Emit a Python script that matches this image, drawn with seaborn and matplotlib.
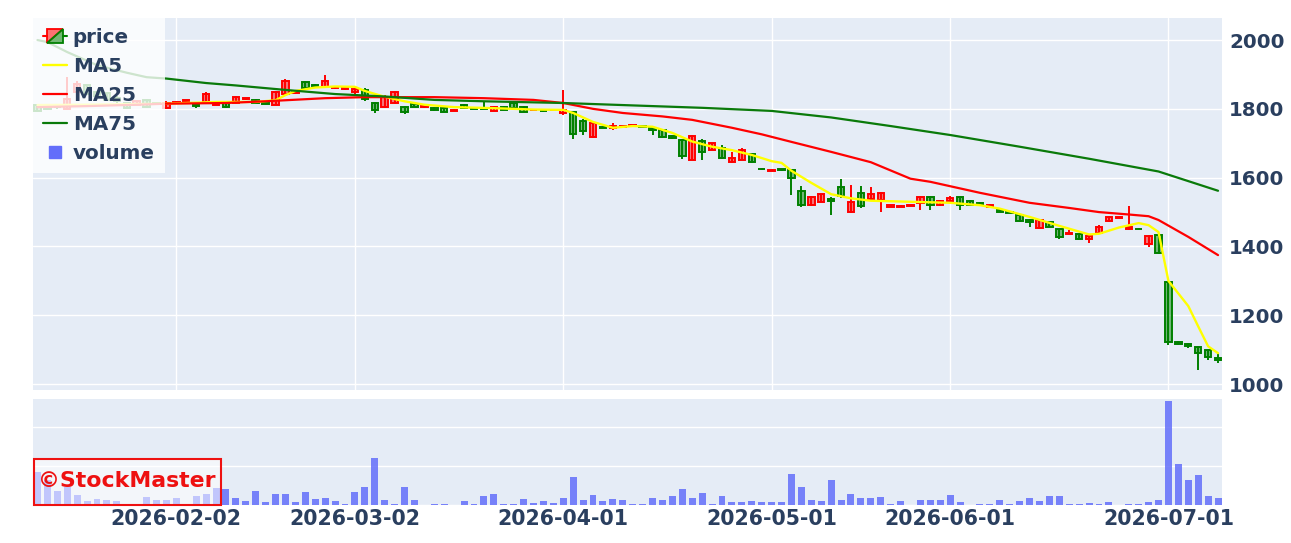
import numpy as np
import pandas as pd
import matplotlib
matplotlib.use("Agg")
import matplotlib.pyplot as plt
import seaborn as sns
from matplotlib.patches import Rectangle, Polygon
from matplotlib.lines import Line2D
from matplotlib.legend_handler import HandlerBase

# ---------------- data ----------------
holidays = ["2026-02-11", "2026-02-23", "2026-03-20", "2026-04-29",
            "2026-05-04", "2026-05-05", "2026-05-06"]
dates = pd.bdate_range("2026-01-13", "2026-07-08", freq="C", holidays=holidays)
tick_dates = ["2026-02-02", "2026-03-02", "2026-04-01", "2026-05-01", "2026-06-01", "2026-07-01"]

open_ = [1810, 1802, 1806, 1800, 1848, 1868, 1848, 1845, 1832, 1816,
         1812, 1825, 1818, 1803, 1818, 1823, 1815, 1820, 1812, 1818,
         1816, 1828, 1826, 1818, 1812, 1842, 1846, 1877, 1870, 1864,
         1861, 1858, 1850, 1855, 1817, 1806, 1817, 1806, 1813, 1804,
         1802, 1802, 1795, 1811, 1803, 1803, 1795, 1805, 1817, 1806,
         1796, 1795, 1796, 1787, 1790, 1766, 1718, 1748, 1743, 1746,
         1751, 1749, 1744, 1738, 1721, 1709, 1652, 1706, 1681, 1685,
         1645, 1652, 1670, 1626, 1619, 1624, 1622, 1562, 1522, 1530,
         1537, 1572, 1500, 1555, 1537, 1535, 1516, 1515, 1519, 1527,
         1544, 1521, 1532, 1543, 1532, 1526, 1515, 1506, 1500, 1491,
         1477, 1455, 1471, 1450, 1436, 1436, 1422, 1440, 1474, 1483,
         1450, 1452, 1408, 1432, 1297, 1122, 1118, 1108, 1099, 1075]
high = [1814, 1806, 1810, 1892, 1880, 1872, 1852, 1848, 1836, 1820,
        1826, 1828, 1821, 1822, 1824, 1826, 1820, 1850, 1816, 1822,
        1838, 1832, 1829, 1820, 1852, 1886, 1852, 1880, 1872, 1898,
        1865, 1862, 1862, 1860, 1820, 1840, 1852, 1809, 1818, 1809,
        1804, 1805, 1800, 1814, 1805, 1820, 1808, 1808, 1820, 1808,
        1800, 1797, 1799, 1855, 1795, 1770, 1760, 1751, 1758, 1751,
        1755, 1751, 1746, 1740, 1723, 1712, 1723, 1712, 1702, 1695,
        1675, 1685, 1672, 1628, 1625, 1626, 1626, 1575, 1546, 1554,
        1545, 1597, 1580, 1575, 1573, 1558, 1522, 1521, 1522, 1546,
        1547, 1534, 1548, 1546, 1534, 1528, 1524, 1512, 1502, 1493,
        1479, 1478, 1473, 1452, 1447, 1438, 1432, 1463, 1488, 1487,
        1518, 1454, 1432, 1437, 1300, 1126, 1121, 1110, 1101, 1090]
low = [1790, 1797, 1800, 1797, 1845, 1840, 1832, 1824, 1818, 1800,
       1808, 1803, 1812, 1800, 1815, 1821, 1803, 1817, 1810, 1803,
       1814, 1826, 1815, 1814, 1810, 1838, 1844, 1858, 1862, 1860,
       1859, 1856, 1840, 1824, 1788, 1803, 1815, 1786, 1804, 1802,
       1793, 1790, 1794, 1801, 1800, 1800, 1793, 1796, 1801, 1790,
       1794, 1792, 1794, 1783, 1712, 1724, 1716, 1743, 1738, 1745,
       1750, 1745, 1724, 1716, 1713, 1655, 1650, 1651, 1679, 1655,
       1643, 1650, 1643, 1623, 1618, 1620, 1550, 1515, 1519, 1528,
       1492, 1540, 1497, 1513, 1535, 1500, 1514, 1514, 1518, 1506,
       1506, 1519, 1530, 1506, 1518, 1518, 1514, 1499, 1496, 1472,
       1456, 1450, 1456, 1423, 1435, 1420, 1410, 1438, 1472, 1482,
       1448, 1449, 1399, 1378, 1115, 1113, 1104, 1040, 1070, 1062]
close = [1793, 1800, 1804, 1830, 1873, 1842, 1836, 1827, 1822, 1803,
         1822, 1806, 1815, 1818, 1820, 1825, 1807, 1842, 1815, 1806,
         1834, 1831, 1818, 1815, 1848, 1882, 1849, 1860, 1865, 1882,
         1864, 1860, 1858, 1828, 1797, 1834, 1848, 1790, 1806, 1807,
         1796, 1792, 1798, 1803, 1801, 1801, 1805, 1798, 1803, 1792,
         1798, 1793, 1798, 1796, 1726, 1735, 1758, 1745, 1750, 1749,
         1754, 1746, 1738, 1718, 1715, 1662, 1721, 1676, 1700, 1658,
         1657, 1680, 1645, 1624, 1623, 1621, 1600, 1520, 1544, 1552,
         1532, 1546, 1528, 1518, 1554, 1555, 1520, 1519, 1521, 1543,
         1522, 1532, 1542, 1522, 1520, 1522, 1522, 1501, 1497, 1474,
         1471, 1476, 1457, 1427, 1439, 1422, 1430, 1456, 1486, 1486,
         1457, 1450, 1430, 1380, 1122, 1117, 1110, 1090, 1078, 1070]
volume = [850, 650, 360, 470, 250, 110, 150, 140, 110, 30,
          30, 200, 130, 120, 190, 30, 230, 270, 440, 410,
          190, 90, 350, 80, 270, 270, 70, 330, 160, 180,
          90, 20, 330, 470, 1190, 120, 20, 460, 120, 10,
          30, 20, 10, 100, 30, 230, 290, 20, 30, 150,
          60, 110, 40, 190, 710, 130, 250, 100, 150, 120,
          20, 20, 180, 120, 220, 410, 180, 310, 30, 220,
          70, 70, 90, 70, 70, 70, 800, 460, 120, 90,
          640, 120, 270, 190, 190, 200, 20, 90, 10, 130,
          130, 130, 250, 70, 10, 20, 20, 120, 20, 100,
          190, 110, 220, 220, 20, 20, 60, 20, 70, 10,
          30, 30, 70, 120, 2650, 1040, 650, 760, 230, 180]

ma5_idx = [0, 5, 13, 18, 22, 24, 25, 26, 28, 30, 32, 33, 35, 37, 39, 42, 46, 50,
           53, 54, 56, 58, 60, 62, 64, 66, 68, 70, 72, 74, 75, 76, 78, 80, 82, 84,
           88, 92, 95, 97, 100, 103, 106, 107, 109, 111, 112, 113, 114, 116, 117,
           118, 119]
ma5 = [1811, 1812, 1815, 1820, 1820, 1825, 1840, 1852, 1862, 1865, 1864, 1852,
       1835, 1822, 1812, 1805, 1802, 1798, 1797, 1788, 1762, 1745, 1750, 1748,
       1730, 1705, 1690, 1680, 1666, 1648, 1643, 1620, 1585, 1552, 1540, 1533,
       1530, 1527, 1520, 1510, 1486, 1460, 1435, 1437, 1455, 1468, 1462, 1442,
       1300, 1227, 1168, 1110, 1090]
ma25_idx = [0, 5, 10, 13, 19, 23, 25, 29, 33, 40, 45, 50, 53, 56, 59, 63, 66, 70,
            73, 76, 80, 84, 88, 90, 95, 100, 104, 107, 110, 112, 113, 116, 119]
ma25 = [1805, 1808, 1812, 1815, 1817, 1822, 1825, 1831, 1834, 1834, 1831, 1826,
        1817, 1800, 1788, 1778, 1768, 1745, 1726, 1704, 1675, 1645, 1597, 1588,
        1556, 1527, 1512, 1500, 1493, 1488, 1477, 1428, 1375]
ma75_idx = [0, 1, 3, 6, 9, 11, 13, 17, 20, 25, 30, 35, 40, 45, 53, 60, 67, 74,
            80, 86, 92, 99, 106, 113, 119]
ma75 = [2000, 1994, 1965, 1927, 1905, 1892, 1888, 1875, 1868, 1855, 1843, 1836,
        1826, 1822, 1817, 1810, 1803, 1794, 1775, 1750, 1724, 1690, 1655, 1618,
        1562]

# ---------------- style ----------------
sns.set_theme(style="darkgrid")
plt.rcParams["font.family"] = ["DejaVu Sans"]
BG = "#E5ECF6"
TXT = "#2a3f5f"
plt.rcParams.update({"axes.facecolor": BG, "grid.color": "white",
                     "grid.linewidth": 1.0, "axes.edgecolor": BG})

fig = plt.figure(figsize=(12.91, 5.43), dpi=100)
fig.patch.set_facecolor("white")
ax = fig.add_axes([33 / 1291, 1 - 390 / 543, 1189 / 1291, 372 / 543])
axv = fig.add_axes([33 / 1291, 1 - 505 / 543, 1189 / 1291, 106 / 543])

n = len(close)
idx = np.arange(n)
o = np.array(open_, float); c = np.array(close, float)
h = np.array(high, float); l = np.array(low, float)
up = c >= o
edge = np.where(up, "#ff0000", "#008000")
fill = [(1, 0, 0, 0.5) if u else (0, 0.5, 0, 0.5) for u in up]

# candles
ax.vlines(idx, l, h, colors=edge, linewidth=1.4, zorder=2)
bottoms = np.minimum(o, c)
heights = np.maximum(np.abs(c - o), 0.8)
ax.bar(idx, heights, bottom=bottoms, width=0.65, color=fill, edgecolor=edge,
       linewidth=1.4, zorder=3)

# moving averages
sns.lineplot(x=ma5_idx, y=ma5, ax=ax, color="#ffff00", linewidth=1.7, zorder=4, legend=False)
sns.lineplot(x=ma25_idx, y=ma25, ax=ax, color="#ff0000", linewidth=1.6, zorder=4, legend=False)
sns.lineplot(x=ma75_idx, y=ma75, ax=ax, color="#0a7a0a", linewidth=1.6, zorder=4, legend=False)

# volume
sns.barplot(x=idx, y=volume, ax=axv, native_scale=True, color="#636efa",
            saturation=1, alpha=0.85, width=0.7, linewidth=0, zorder=3)

# ---------------- axes formatting ----------------
for a in (ax, axv):
    a.set_xlim(-0.45, 119.4)
    a.set_xlabel(""); a.set_ylabel("")
    for s in a.spines.values():
        s.set_visible(False)
    a.tick_params(length=0)

ax.set_ylim(983, 2064)
ax.set_yticks([1000, 1200, 1400, 1600, 1800, 2000])
ax.yaxis.tick_right()
ax.tick_params(axis="y", pad=5)
for t in ax.get_yticklabels():
    t.set_fontweight("bold"); t.set_fontsize(14.3); t.set_color(TXT)

tick_pos = [int(np.where(dates == pd.Timestamp(d))[0][0]) for d in tick_dates]
ax.set_xticks(tick_pos)
ax.set_xticklabels([])
ax.grid(True, axis="both", color="white", linewidth=1.0)

axv.set_ylim(0, 2710)
axv.set_yticks([0, 1000, 2000])
axv.set_yticklabels([])
axv.grid(True, axis="y", color="white", linewidth=1.0)
axv.grid(False, axis="x")
axv.set_xticks(tick_pos)
axv.set_xticklabels(tick_dates, fontsize=14.8, fontweight="bold", color=TXT)
axv.tick_params(axis="x", pad=3)

# ---------------- legend ----------------
class CandleHandler(HandlerBase):
    def create_artists(self, legend, orig_handle, xdescent, ydescent, width,
                       height, fontsize, trans):
        cy = height / 2 - ydescent
        x0 = -xdescent
        bw = width * 0.7
        bx = x0 + (width - bw) / 2
        bh = height * 1.0
        by = cy - bh / 2
        return [
            Line2D([x0, bx], [cy, cy], color="red", lw=1.5, transform=trans),
            Line2D([bx + bw, x0 + width], [cy, cy], color="green", lw=1.5, transform=trans),
            Polygon([[bx, by], [bx, by + bh], [bx + bw, by + bh]], closed=True,
                    fc=(1, 0, 0, 0.55), ec="red", lw=1.3, transform=trans),
            Polygon([[bx, by], [bx + bw, by], [bx + bw, by + bh]], closed=True,
                    fc=(0, 0.5, 0, 0.55), ec="green", lw=1.3, transform=trans),
        ]

price_handle = Rectangle((0, 0), 1, 1)
handles = [price_handle,
           Line2D([], [], color="#ffff00", lw=1.7),
           Line2D([], [], color="#ff0000", lw=1.6),
           Line2D([], [], color="#0a7a0a", lw=1.6),
           Line2D([], [], marker="s", ls="", color="#636efa", markersize=9)]
labels = ["price", "MA5", "MA25", "MA75", "volume"]
leg = ax.legend(handles, labels, loc="upper left", bbox_to_anchor=(0, 1),
                borderaxespad=0, frameon=True, fancybox=False,
                handler_map={Rectangle: CandleHandler()},
                prop={"weight": "bold", "size": 14.3},
                handlelength=1.2, handletextpad=0.3, labelspacing=0.5,
                borderpad=0.5)
leg.get_frame().set_facecolor((1, 1, 1, 0.5))
leg.get_frame().set_edgecolor("none")
leg.set_zorder(10)
for t in leg.get_texts():
    t.set_color(TXT)

# ---------------- watermark ----------------
wm = Rectangle((34 / 1291, 1 - 505 / 543), 187 / 1291, 46 / 543,
               transform=fig.transFigure, facecolor=(1, 1, 1, 0.55),
               edgecolor="#ee1111", linewidth=1.5, zorder=20)
fig.patches.append(wm)
fig.text(127 / 1291, 1 - 481 / 543, "©StockMaster", color="#ee1111",
         fontsize=15.8, fontweight="bold", ha="center", va="center", zorder=21)

fig.savefig("out.png", dpi=100, facecolor="white")
